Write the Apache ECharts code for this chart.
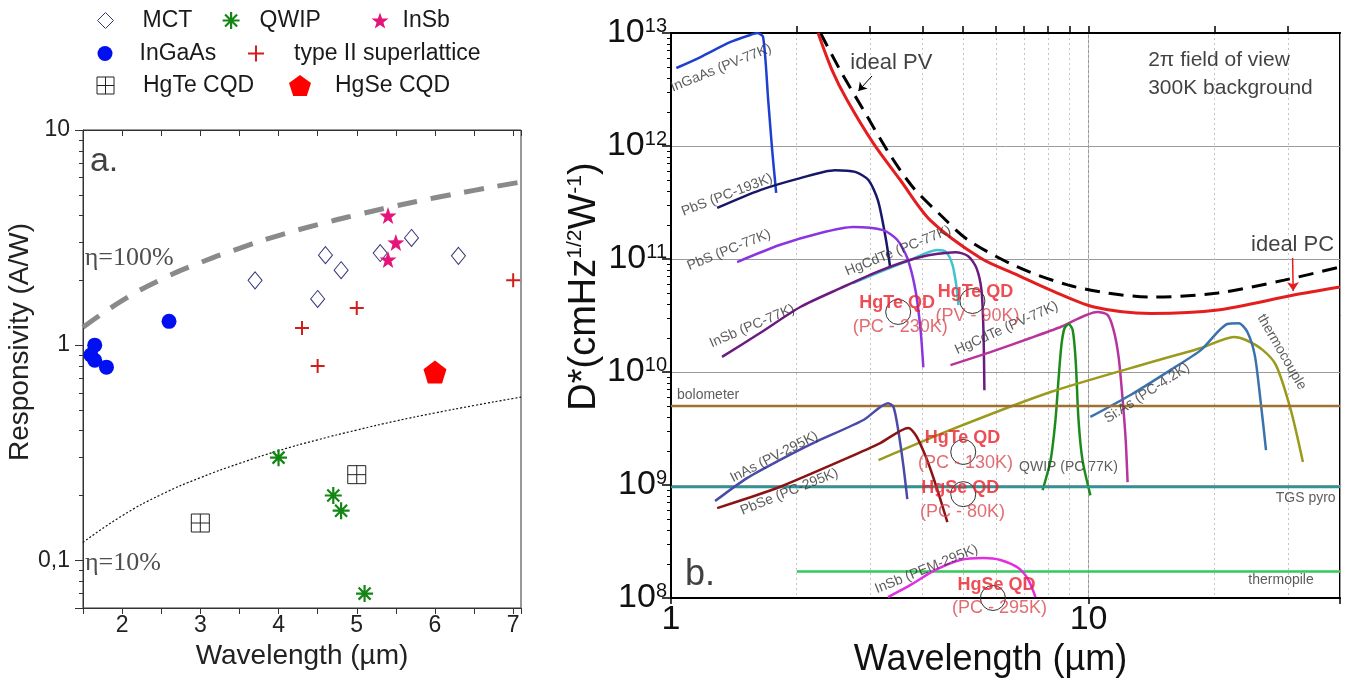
<!DOCTYPE html>
<html><head><meta charset="utf-8">
<script src="https://cdn.jsdelivr.net/npm/echarts@6/dist/echarts.min.js"></script>
<style>html,body{margin:0;padding:0;background:#fff}#c{width:1350px;height:680px}</style>
</head><body><div id="c"></div>
<script>
// ================= Panel a: responsivity (A/W) vs wavelength (µm) =================
const mct      = [[3.7,2.0],[4.5,1.64],[4.6,2.62],[4.8,2.23],[5.3,2.68],[5.7,3.15],[6.3,2.6]];
const qwip     = [[4.0,0.30],[4.7,0.20],[4.8,0.17],[5.1,0.07]];
const insb     = [[5.4,4.0],[5.5,3.0],[5.4,2.5]];
const ingaas   = [[1.6,0.9],[1.65,1.0],[1.65,0.85],[1.8,0.79],[2.6,1.29]];
const t2sl     = [[4.3,1.2],[4.5,0.8],[5.0,1.49],[7.0,2.0]];
const hgteCqd  = [[3.0,0.149],[5.0,0.25]];
const hgseCqd  = [[6.0,0.75]];
const etaX     = [1.5,2,2.5,3,3.5,4,4.5,5,5.5,6,6.5,7,7.1];
const eta100Y  = [1.21,1.61,2.02,2.42,2.82,3.23,3.63,4.03,4.44,4.84,5.24,5.65,5.73];
const eta10Y   = [0.121,0.161,0.202,0.242,0.282,0.323,0.363,0.403,0.444,0.484,0.524,0.565,0.573];
const leftXTicks = [2,3,4,5,6,7];
const leftYTicks = [0.1,1,10];
const leftYTickLabels = ['0,1','1','10'];
const leftYMinor = [0.07,0.08,0.09,0.2,0.3,0.4,0.5,0.6,0.7,0.8,0.9,2,3,4,5,6,7,8,9];

// ================= Panel b: D* vs wavelength (µm) =================
const ingaasPV77K = [[1.03,4.9e12],[1.174,6.1e12],[1.385,8.3e12],[1.547,9.6e12],[1.608,1e13],[1.662,9.2e12],[1.709,2.55e12],[1.747,9.2e11],[1.786,3.84e11]];
const pbsPC193K   = [[1.29,2.83e11],[1.635,4.07e11],[2.04,5.2e11],[2.47,6.1e11],[2.76,5.9e11],[2.97,5.0e11],[3.13,3.3e11],[3.26,1.6e11],[3.35,8.3e10]];
const pbsPC77K    = [[1.44,9.4e10],[1.82,1.33e11],[2.28,1.7e11],[2.73,1.92e11],[3.22,1.8e11],[3.48,1.48e11],[3.68,1.02e11],[3.85,5.3e10],[3.96,2.35e10],[4.02,1.1e10]];
const hgcdtePC77K = [[2.72,6.1e10],[3.17,7.7e10],[3.74,9.8e10],[4.34,1.2e11],[4.56,1.15e11],[4.72,8.9e10],[4.82,5.9e10],[4.88,3.9e10]];
const insbPC77K   = [[1.325,1.36e10],[1.63,2.2e10],[2.04,3.76e10],[2.54,5.5e10],[3.17,7.9e10],[3.96,1.04e11],[4.80,1.15e11],[5.15,1.06e11],[5.39,8.3e10],[5.54,5.3e10],[5.60,2.35e10],[5.63,6.9e9]];
const hgcdtePV77K = [[4.67,1.15e10],[5.82,1.5e10],[7.26,2.0e10],[8.57,2.5e10],[10.5,3.4e10],[11.1,3.2e10],[11.48,2.35e10],[11.8,1.36e10],[12.07,5.6e9],[12.27,2.5e9],[12.4,1.06e9]];
const qwipPC77K   = [[7.76,9.0e8],[8.11,1.66e9],[8.33,3.76e9],[8.47,8.5e9],[8.61,1.74e10],[8.76,2.45e10],[8.96,2.66e10],[9.16,2.35e10],[9.31,1.28e10],[9.46,3.76e9],[9.67,1.66e9],[10.1,8.1e8]];
const thermocouple= [[3.14,1.66e9],[4.67,3.07e9],[8.11,6.65e9],[14.1,1.22e10],[18.6,1.63e10],[22.3,2.04e10],[23.8,1.92e10],[26.1,1.57e10],[28.1,1.15e10],[30.5,4.6e9],[32.6,1.6e9]];
const siasPC4K    = [[10.1,4.0e9],[12.6,6.26e9],[15.7,1.04e10],[18.6,1.57e10],[21.5,2.66e10],[22.9,2.7e10],[24.0,2.26e10],[25.0,1.41e10],[25.8,5.65e9],[26.6,2.04e9]];
const bolometer   = [[1,5.0e9],[40,5.0e9]];
const tgsPyro     = [[1,9.6e8],[40,9.6e8]];
const thermopile  = [[2,1.72e8],[40,1.72e8]];
const inasPV295K  = [[1.275,7.2e8],[1.52,1.15e9],[1.82,1.66e9],[2.19,2.35e9],[2.89,3.76e9],[3.31,5.3e9],[3.41,4.9e9],[3.50,3.07e9],[3.60,1.5e9],[3.68,7.5e8]];
const pbsePC295K  = [[1.29,6.25e8],[1.55,7.8e8],[1.82,9.6e8],[2.64,1.73e9],[3.17,2.35e9],[3.70,3.2e9],[3.87,2.7e9],[4.06,1.84e9],[4.23,1.22e9],[4.42,7.4e8],[4.59,4.7e8]];
const insbPEM295K = [[3.31,1.02e8],[3.74,1.3e8],[4.30,1.77e8],[4.93,2.17e8],[5.60,2.26e8],[6.15,2.17e8],[6.79,1.84e8],[7.18,1.44e8],[7.46,1.02e8]];
const idealPV     = [[2.28,1e13],[2.54,4.7e12],[2.89,2.08e12],[3.35,8.3e11],[3.80,4.3e11],[4.42,2.45e11],[5.15,1.47e11],[6.76,8.5e10],[8.91,5.9e10],[11.1,5.0e10],[14.1,4.6e10],[20.4,5.0e10],[29.4,6.5e10],[40,8.5e10]];
const idealPC     = [[2.25,1e13],[2.43,4.7e12],[2.64,2.55e12],[3.05,1.06e12],[3.54,5.0e11],[4.18,2.2e11],[5.51,1.02e11],[6.76,7.2e10],[8.11,5.3e10],[10.3,3.76e10],[14.1,3.3e10],[20.4,3.54e10],[31.0,4.8e10],[40,5.65e10]];
const hgQdPoints  = [[3.50,3.4e10],[5.27,4.25e10],[5.01,1.96e9],[5.01,8.3e8],[5.9,1.0e8]];
const rightXTicks = [1,10];
const rightXTickLabels = ['1','10'];
const rightXMinor = [2,3,4,5,6,7,8,9,10,20,30];
const rightYTicks = [1e8,1e9,1e10,1e11,1e12,1e13];
const rightYExp   = ['8','9','10','11','12','13'];
const decadeMinor = [2,3,4,5,6,7,8,9];

// ================= styling / layout =================
const FONT = '"Liberation Sans", Arial, Helvetica, sans-serif';
const SERIF = '"Liberation Serif", "Times New Roman", serif';
const L10 = Math.log10;
const isPow = v => Math.abs(L10(v) - Math.round(L10(v))) < 1e-6;
const zip = (xs, ys) => xs.map((x, i) => [x, ys[i]]);

const STAR = 'path://M10,0L12.35,6.76L19.51,6.91L13.8,11.24L15.88,18.09L10,14L4.12,18.09L6.2,11.24L0.49,6.91L7.65,6.76Z';
const PENT = 'path://M10,0L19.51,6.91L15.88,18.09L4.12,18.09L0.49,6.91Z';
const ASTER = 'path://M10,0L10,20M0,10L20,10M2.93,2.93L17.07,17.07M2.93,17.07L17.07,2.93';
const PLUS = 'path://M10,0L10,20M0,10L20,10';
const SQX = 'path://M0,0L20,0L20,20L0,20ZM10,0L10,20M0,10L20,10';

const leftStyles = {
  'MCT': {data: mct, symbol: 'diamond', size: [14,17], it: {color:'#fff', borderColor:'#34347a', borderWidth:1, opacity:1}},
  'QWIP': {data: qwip, symbol: ASTER, size: 17, it: {color:'transparent', borderColor:'#138613', borderWidth:2.2, opacity:1}},
  'InSb': {data: insb, symbol: STAR, size: 17, it: {color:'#e5147a', opacity:1}},
  'InGaAs': {data: ingaas, symbol: 'circle', size: 15, it: {color:'#0010f0', opacity:1}},
  'type II superlattice': {data: t2sl, symbol: PLUS, size: 14, it: {color:'transparent', borderColor:'#d41c1c', borderWidth:2, opacity:1}},
  'HgTe CQD': {data: hgteCqd, symbol: SQX, size: 18, it: {color:'#fff', borderColor:'#222', borderWidth:1, opacity:1}},
  'HgSe CQD': {data: hgseCqd, symbol: PENT, size: 23, it: {color:'#ff0000', opacity:1}}
};
// legend positions: [icon centre x, centre y, text padding, icon size]
const legendPos = {
  'MCT':[105,21,24,16], 'QWIP':[230,21,15,17], 'InSb':[380,21,9,17],
  'InGaAs':[105,54,22,15], 'type II superlattice':[255,54,25,16],
  'HgTe CQD':[105,86,24,17], 'HgSe CQD':[300,86,19,22]
};

const rightStyles = [
  ['InGaAs (PV-77K)', ingaasPV77K, '#1f3fcf', 2.5],
  ['PbS (PC-193K)', pbsPC193K, '#17176a', 2.5],
  ['PbS (PC-77K)', pbsPC77K, '#8a35e0', 2.5],
  ['HgCdTe (PC-77K)', hgcdtePC77K, '#3fc4cf', 2.5],
  ['InSb (PC-77K)', insbPC77K, '#6b1a80', 2.5],
  ['HgCdTe (PV-77K)', hgcdtePV77K, '#b8339c', 2.5],
  ['QWIP (PC 77K)', qwipPC77K, '#1b8c1b', 2.5],
  ['thermocouple', thermocouple, '#9a9a1c', 2.5],
  ['Si:As (PC-4.2K)', siasPC4K, '#3a72ae', 2.5],
  ['bolometer', bolometer, '#a07030', 2.5],
  ['TGS pyro', tgsPyro, '#2d9595', 2.5],
  ['thermopile', thermopile, '#35c85a', 2.5],
  ['InAs (PV-295K)', inasPV295K, '#4a4aa8', 2.5],
  ['PbSe (PC-295K)', pbsePC295K, '#8a1414', 2.5],
  ['InSb (PEM-295K)', insbPEM295K, '#e22ee2', 2.5]
];

// text annotations on panel b: [text, x, y, rotate]
const curveLabels = [
  ['InGaAs (PV-77K)', 1.318, 4.9e12, 22],
  ['PbS (PC-193K)', 1.362, 3.68e11, 21],
  ['PbS (PC-77K)', 1.377, 1.2e11, 22],
  ['HgCdTe (PC-77K)', 3.5, 1.18e11, 22],
  ['InSb (PC-77K)', 1.564, 2.55e10, 23],
  ['HgCdTe (PV-77K)', 6.36, 2.45e10, 24],
  ['QWIP (PC 77K)', 8.95, 1.44e9, 0],
  ['thermocouple', 29.0, 1.5e10, -60],
  ['Si:As (PC-4.2K)', 13.8, 6.5e9, 33],
  ['bolometer', 1.227, 6.25e9, 0],
  ['TGS pyro', 33.1, 7.7e8, 0],
  ['thermopile', 28.9, 1.44e8, 0],
  ['InAs (PV-295K)', 1.766, 1.77e9, 27],
  ['PbSe (PC-295K)', 1.92, 8.7e8, 22],
  ['InSb (PEM-295K)', 4.09, 1.8e8, 22]
];
const qdLabels = [
  ['HgTe QD', 3.48, 4.08e10, true], ['(PC - 230K)', 3.54, 2.5e10, false],
  ['HgTe QD', 5.36, 5.1e10, true], ['(PV - 90K)', 5.42, 3.13e10, false],
  ['HgTe QD', 4.99, 2.6e9, true], ['(PC - 130K)', 5.07, 1.57e9, false],
  ['HgSe QD', 4.93, 9.4e8, true], ['(PC - 80K)', 4.99, 5.77e8, false],
  ['HgSe QD', 6.02, 1.3e8, true], ['(PC - 295K)', 6.12, 8.2e7, false]
];
const otherRightText = [
  ['ideal PV', 3.37, 5.43e12, 22, 'inside'],
  ['ideal PC', 30.8, 1.33e11, 22, 'inside'],
  ['2π field of view', 13.85, 5.77e12, 21, 'right'],
  ['300K background', 13.85, 3.26e12, 21, 'right'],
  ['b.', 1.173, 1.6e8, 36, 'inside']
];

const chart = echarts.init(document.getElementById('c'), null, {renderer: 'canvas'});

const series = [];
// panel a lines
series.push({type:'line', name:'eta100', xAxisIndex:0, yAxisIndex:0, data: zip(etaX, eta100Y), smooth:true, showSymbol:false, silent:true,
  lineStyle:{color:'#8a8a8a', width:5, type:[20,14]}, z:2});
series.push({type:'line', name:'eta10', xAxisIndex:0, yAxisIndex:0, data: zip(etaX, eta10Y), smooth:true, showSymbol:false, silent:true,
  lineStyle:{color:'#111', width:1.2, type:[2,2]}, z:2});
Object.keys(leftStyles).forEach(n => {
  const s = leftStyles[n];
  series.push({type:'scatter', name:n, xAxisIndex:0, yAxisIndex:0, data:s.data, symbol:s.symbol, symbolSize:s.size, itemStyle:s.it, z:4});
});
// panel a text
series.push({type:'scatter', xAxisIndex:0, yAxisIndex:0, symbolSize:1, itemStyle:{color:'rgba(0,0,0,0)'}, silent:true, clip:false, z:6,
  data:[
    {value:[1.77,7.1], label:{show:true, position:'inside', formatter:'a.', fontSize:34, color:'#111', fontFamily:FONT}},
    {value:[2.09,2.54], label:{show:true, position:'inside', formatter:'η=100%', fontSize:26, color:'#222', fontFamily:SERIF}},
    {value:[2.01,0.0969], label:{show:true, position:'inside', formatter:'η=10%', fontSize:26, color:'#222', fontFamily:SERIF}}
  ]});

// panel b curves
rightStyles.forEach(([n, d, c, w]) => {
  series.push({type:'line', name:n, xAxisIndex:2, yAxisIndex:2, data:d, showSymbol:false, smooth:0.25, silent:true,
    lineStyle:{color:c, width:w}, z:3});
});
series.push({type:'line', name:'ideal PV', xAxisIndex:2, yAxisIndex:2, data:idealPV, showSymbol:false, smooth:0.3, silent:true,
  lineStyle:{color:'#000', width:3, type:[15,9]}, z:4,
  markLine:{silent:true, symbol:['none','arrow'], symbolSize:8, label:{show:false}, lineStyle:{color:'#000', width:1, type:'solid'},
    data:[[{coord:[3.03,4.17e12]},{coord:[2.81,3.07e12]}]]}});
series.push({type:'line', name:'ideal PC', xAxisIndex:2, yAxisIndex:2, data:idealPC, showSymbol:false, smooth:0.3, silent:true,
  lineStyle:{color:'#e41e1e', width:3}, z:4,
  markLine:{silent:true, symbol:['none','arrow'], symbolSize:9, label:{show:false}, lineStyle:{color:'#e41e1e', width:1.5, type:'solid'},
    data:[[{coord:[30.8,1.02e11]},{coord:[30.9,5.2e10]}]]}});
series.push({type:'scatter', name:'HgTe QD pts', xAxisIndex:2, yAxisIndex:2, data:hgQdPoints, symbol:'circle', symbolSize:25, clip:false,
  itemStyle:{color:'rgba(0,0,0,0)', borderColor:'#333', borderWidth:1, opacity:1}, silent:true, z:7});
// panel b text
const txt = [];
curveLabels.forEach(([t,x,y,r]) => txt.push({value:[x,y], label:{show:true, position:'inside', formatter:t, rotate:r, fontSize:14, color:'#333', fontFamily:FONT}}));
qdLabels.forEach(([t,x,y,b]) => txt.push({value:[x,y], label:{show:true, position:'inside', formatter:t, fontSize:18, fontWeight: b?'bold':'normal', color: b?'#e8202a':'#d9474f', fontFamily:FONT}}));
otherRightText.forEach(([t,x,y,fs,pos]) => txt.push({value:[x,y], label:{show:true, position:pos, distance:0, formatter:t, fontSize:fs, color:'#111', fontFamily:FONT}}));
series.push({type:'scatter', xAxisIndex:2, yAxisIndex:2, symbolSize:1, itemStyle:{color:'rgba(0,0,0,0)'}, silent:true, clip:false, z:8, data:txt});

const legends = Object.keys(legendPos).map(n => {
  const [cx, cy, pad, sz] = legendPos[n];
  return {data:[n], left:cx-sz/2, top:cy-12, padding:0, itemWidth:sz, itemHeight:sz, selectedMode:false,
    itemStyle: leftStyles[n].it,
    textStyle:{fontSize:23, fontFamily:FONT, color:'#1a1a1a', padding:[0,0,0,pad]}};
});

const option = {
  animation:false,
  backgroundColor:'#fff',
  textStyle:{fontFamily:FONT},
  legend: legends,
  grid:[
    {left:83, top:130, width:438, height:478, show:true, borderColor:'#333', borderWidth:1, backgroundColor:'transparent', containLabel:false, outerBoundsMode:'none'},
    {left:671, top:33, width:669, height:565, show:true, borderColor:'#000', borderWidth:2, backgroundColor:'transparent', containLabel:false, outerBoundsMode:'none'}
  ],
  xAxis:[
    {type:'value', gridIndex:0, position:'bottom', min:1.5, max:7.1, interval:0.5,
      axisLine:{show:true, onZero:false, lineStyle:{color:'#333', width:1}},
      axisTick:{show:true, inside:false, length:6, lineStyle:{color:'#333'}},
      axisLabel:{fontSize:23, color:'#222', margin:6, fontFamily:FONT,
        formatter: v => { const i = leftXTicks.findIndex(t => Math.abs(t-v) < 1e-9); return i < 0 ? '' : String(leftXTicks[i]); }},
      splitLine:{show:false},
      name:'Wavelength (µm)', nameLocation:'middle', nameGap:30, nameTextStyle:{fontSize:28, color:'#222', fontFamily:FONT}},
    {type:'value', gridIndex:0, position:'top', min:1.5, max:7.1, interval:0.5,
      axisLine:{show:true, onZero:false, lineStyle:{color:'#333', width:1}},
      axisTick:{show:true, inside:true, length:6, lineStyle:{color:'#333'}},
      axisLabel:{show:false}, splitLine:{show:false}},
    {type:'log', logBase:10, gridIndex:1, position:'bottom', min:1, max:40,
      axisLine:{show:true, onZero:false, lineStyle:{color:'#000', width:2}},
      axisTick:{show:true, inside:false, length:6, lineStyle:{color:'#000', width:1.5}},
      axisLabel:{fontSize:34, color:'#111', margin:5, fontFamily:FONT,
        formatter: v => { const i = rightXTicks.findIndex(t => Math.abs(L10(t)-L10(v)) < 1e-6); return i < 0 ? '' : rightXTickLabels[i]; }},
      splitLine:{show:true, lineStyle:{color:'#9a9a9a', width:1}},
      name:'Wavelength (µm)', nameLocation:'middle', nameGap:31, nameTextStyle:{fontSize:36, color:'#111', fontFamily:FONT, padding:[0,30,0,0]}},
    {type:'value', gridIndex:1, position:'top', min:0, max:L10(40),
      axisLine:{show:true, onZero:false, lineStyle:{color:'#000', width:2}},
      axisTick:{show:true, inside:false, length:7, customValues: rightXMinor.map(L10), lineStyle:{color:'#000', width:1.5}},
      axisLabel:{show:false},
      splitLine:{show:true, lineStyle:{color:'#c4c4c4', width:1, type:[2,3]}}}
  ],
  yAxis:[
    {type:'log', logBase:10, gridIndex:0, position:'left', min:0.06, max:10,
      axisLine:{show:true, onZero:false, lineStyle:{color:'#333', width:1}},
      axisTick:{show:true, inside:false, length:8, lineStyle:{color:'#333'}},
      axisLabel:{fontSize:23, color:'#222', margin:13, fontFamily:FONT,
        formatter: v => { if (!isPow(v)) return ''; const i = leftYTicks.findIndex(t => Math.abs(L10(t)-L10(v)) < 1e-6); return i < 0 ? '' : leftYTickLabels[i]; }},
      splitLine:{show:false},
      name:'Responsivity (A/W)', nameLocation:'middle', nameGap:45, nameRotate:90,
      nameTextStyle:{fontSize:28, color:'#222', fontFamily:FONT, padding:[0,0,0,54]}},
    {type:'value', gridIndex:0, position:'left', min:L10(0.06), max:1,
      axisLine:{show:false, onZero:false},
      axisTick:{show:true, inside:false, length:4, customValues: leftYMinor.map(L10), lineStyle:{color:'#333'}},
      axisLabel:{show:false}, splitLine:{show:false}},
    {type:'log', logBase:10, gridIndex:1, position:'left', min:1e8, max:1e13,
      axisLine:{show:true, onZero:false, lineStyle:{color:'#000', width:2}},
      axisTick:{show:true, inside:false, length:9, lineStyle:{color:'#000', width:1.5}},
      axisLabel:{margin:4, fontFamily:FONT,
        formatter: v => { const i = rightYTicks.findIndex(t => Math.abs(L10(t)-L10(v)) < 1e-6); return i < 0 ? '' : '{b|10}{s|' + rightYExp[i] + '}'; },
        rich:{b:{fontSize:34, color:'#111', fontFamily:FONT}, s:{fontSize:20, color:'#111', fontFamily:FONT, verticalAlign:'top'}}},
      splitLine:{show:true, lineStyle:{color:'#9a9a9a', width:1}},
      name:'{a|D*(cmHz}{s|1/2}{a|W}{s|-1}{a|)}', nameLocation:'middle', nameGap:40, nameRotate:90,
      nameTextStyle:{padding:[0,0,0,58], rich:{a:{fontSize:38, color:'#111', fontFamily:FONT}, s:{fontSize:21, color:'#111', fontFamily:FONT, verticalAlign:'top'}}}},
    {type:'value', gridIndex:1, position:'left', min:8, max:13,
      axisLine:{show:false, onZero:false},
      axisTick:{show:true, inside:false, length:4, customValues: [8,9,10,11,12].flatMap(d => decadeMinor.map(m => d + L10(m))), lineStyle:{color:'#000', width:1}},
      axisLabel:{show:false}, splitLine:{show:false}}
  ],
  series
};
chart.setOption(option);
</script>
</body></html>
